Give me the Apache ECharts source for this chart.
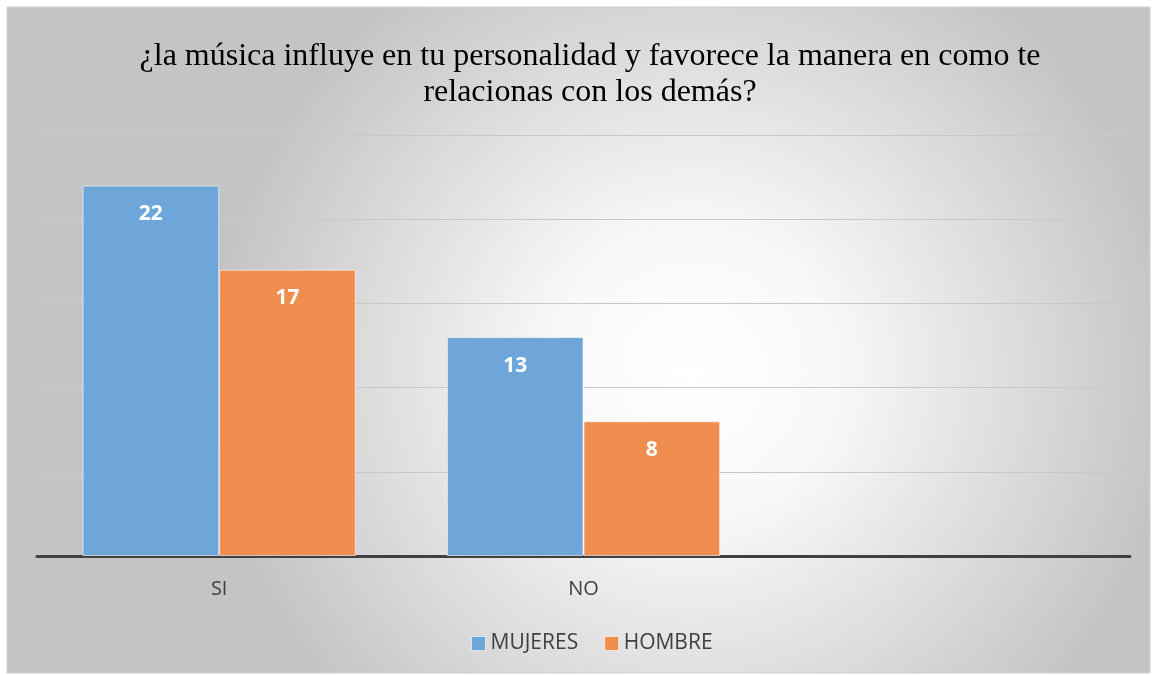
<!DOCTYPE html>
<html>
<head>
<meta charset="utf-8">
<script src="https://cdn.jsdelivr.net/npm/echarts@6/dist/echarts.min.js"></script>
<style>
  html, body { margin: 0; padding: 0; background: #fff; }
  #main { width: 1152px; height: 675px; }
</style>
</head>
<body>
<div id="main"></div>
<script>
var categories = ["SI", "NO", ""];
var mujeres = [22, 13, null];
var hombre = [17, 8, null];
var seriesNames = ["MUJERES", "HOMBRE"];

var chartDom = document.getElementById("main");
var myChart = echarts.init(chartDom);
var option;

var labelStyle = {
  show: true,
  position: "insideTop",
  distance: 18,
  color: "#fff",
  fontSize: 21,
  fontWeight: "bold",
  fontFamily: "Open Sans"
};

option = {
  backgroundColor: "#fff",
  graphic: [
    {
      type: "rect",
      z: -10,
      silent: true,
      shape: { x: 7, y: 7, width: 1143, height: 666 },
      style: {
        fill: new echarts.graphic.RadialGradient(0.6, 0.55, 0.72, [
          { offset: 0, color: "#ffffff" },
          { offset: 0.3, color: "#f8f8f8" },
          { offset: 1, color: "#c4c4c4" }
        ]),
        stroke: "#d0d0d0",
        lineWidth: 1
      }
    }
  ],
  title: {
    text: "¿la música influye en tu personalidad y favorece la manera en como te\nrelacionas con los demás?",
    left: 585,
    textAlign: "center",
    top: 34,
    textStyle: {
      fontFamily: "Liberation Serif",
      fontSize: 32,
      fontWeight: "normal",
      color: "#000",
      lineHeight: 36
    }
  },
  legend: {
    bottom: 16,
    left: 466,
    icon: "rect",
    itemWidth: 14,
    itemHeight: 14,
    itemGap: 26,
    itemStyle: { borderColor: "rgba(255,255,255,0.6)", borderWidth: 1 },
    textStyle: { fontFamily: "Open Sans", fontSize: 21, color: "#404040" },
    data: seriesNames
  },
  grid: { left: 37, right: 22, top: 135, bottom: 119 },
  xAxis: {
    type: "category",
    data: categories,
    axisLine: { lineStyle: { color: "#404040", width: 3 } },
    axisTick: { show: false },
    axisLabel: { margin: 23, fontFamily: "Open Sans", fontSize: 20, color: "#404040" }
  },
  yAxis: {
    type: "value",
    min: 0,
    max: 25,
    interval: 5,
    axisLabel: { show: false },
    axisLine: { show: false },
    axisTick: { show: false },
    splitLine: { lineStyle: { color: "#c8c8c8", width: 1 } }
  },
  series: [
    {
      name: seriesNames[0],
      type: "bar",
      data: mujeres,
      barGap: "0%",
      barCategoryGap: "25%",
      itemStyle: { color: "#6fa6d9", borderColor: "rgba(255,255,255,0.6)", borderWidth: 1 },
      label: labelStyle
    },
    {
      name: seriesNames[1],
      type: "bar",
      data: hombre,
      barGap: "0%",
      barCategoryGap: "25%",
      itemStyle: { color: "#ef8e4f", borderColor: "rgba(255,255,255,0.6)", borderWidth: 1 },
      label: labelStyle
    }
  ]
};

option && myChart.setOption(option, true);
</script>
</body>
</html>
